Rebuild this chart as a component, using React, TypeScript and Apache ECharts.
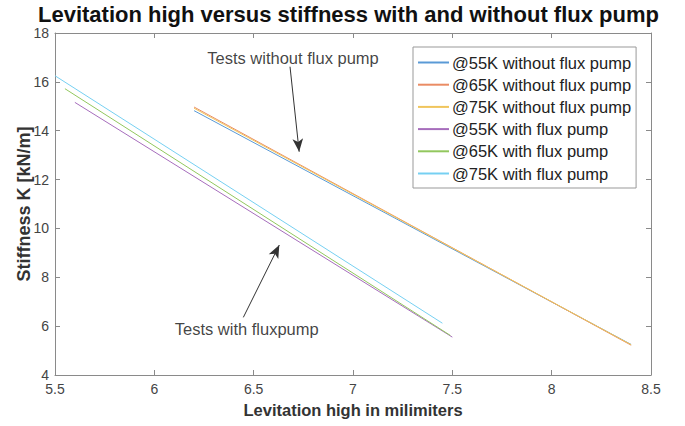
import React, { useEffect, useRef } from "react";
import * as echarts from "echarts";

const seriesNames = [
  "@55K without flux pump",
  "@65K without flux pump",
  "@75K without flux pump",
  "@55K with flux pump",
  "@65K with flux pump",
  "@75K with flux pump",
];
const seriesColors = ["#5a9ad6", "#ea8c64", "#f0c55c", "#a66dbc", "#92c75e", "#76d0f2"];

const wo55X = [6.2, 8.4];
const wo55Y = [14.82, 5.25];
const wo65X = [6.2, 8.4];
const wo65Y = [14.97, 5.22];
const wo75X = [6.2, 8.4];
const wo75Y = [14.92, 5.24];
const w55X = [5.6, 7.5];
const w55Y = [15.16, 5.55];
const w65X = [5.55, 7.49];
const w65Y = [15.72, 5.62];
const w75X = [5.5, 7.45];
const w75Y = [16.25, 6.12];

const seriesXs = [wo55X, wo65X, wo75X, w55X, w65X, w75X];
const seriesYs = [wo55Y, wo65Y, wo75Y, w55Y, w65Y, w75Y];

const xTicks = [5.5, 6, 6.5, 7, 7.5, 8, 8.5];
const yTicks = [4, 6, 8, 10, 12, 14, 16, 18];

const annotations = [
  { text: "Tests without flux pump", at: [6.698, 16.98], from: [6.683, 16.62], to: [6.729, 13.14] },
  { text: "Tests with fluxpump", at: [6.465, 5.88], from: [6.448, 6.36], to: [6.629, 9.32] },
];

const FONT = "'Liberation Sans', Arial, Helvetica, sans-serif";

export default function App() {
  const ref = useRef<HTMLDivElement>(null);
  useEffect(() => {
    if (!ref.current) return;
    const chart = echarts.init(ref.current, undefined, { renderer: "svg" });
    const axisColor = "#8a8a8a";
    const labelColor = "#444";
    const lineSeries = seriesNames.map((name, i) => ({
      name,
      type: "line",
      xAxisIndex: 0,
      yAxisIndex: 0,
      symbol: "none",
      lineStyle: { width: 1, color: seriesColors[i] },
      itemStyle: { color: seriesColors[i] },
      data: seriesXs[i].map((x, j) => [x, seriesYs[i][j]]),
      z: 3,
    }));
    const option: any = {
      animation: false,
      backgroundColor: "#ffffff",
      textStyle: { fontFamily: FONT },
      title: {
        text: "Levitation high versus stiffness with and without flux pump",
        left: 38,
        top: 3,
        padding: 0,
        textStyle: { fontFamily: FONT, fontSize: 22, fontWeight: "bold", color: "#111" },
      },
      grid: { left: 55, right: 34, top: 33, bottom: 51, containLabel: false, outerBoundsMode: "none" },
      legend: {
        data: seriesNames,
        orient: "vertical",
        left: 413,
        top: 47,
        padding: [6, 5, 5, 5],
        itemGap: 3.2,
        itemWidth: 31,
        itemHeight: 2,
        icon: "rect",
        borderColor: "#999",
        borderWidth: 1,
        backgroundColor: "#fff",
        textStyle: { fontFamily: FONT, fontSize: 16.5, color: "#222", lineHeight: 19, padding: [0, 0, 0, -2] },
      },
      xAxis: [
        {
          type: "value",
          min: 5.5,
          max: 8.5,
          interval: 0.5,
          position: "bottom",
          name: "Levitation high in milimiters",
          nameLocation: "middle",
          nameGap: 26,
          nameTextStyle: { fontFamily: FONT, fontSize: 16.5, fontWeight: "bold", color: "#333" },
          axisLine: { show: true, lineStyle: { color: axisColor, width: 1 } },
          axisTick: { show: true, inside: true, length: 5, lineStyle: { color: axisColor } },
          axisLabel: { color: labelColor, fontSize: 14, margin: 7, formatter: (v: number) => (xTicks.includes(v) ? String(v) : "") },
          splitLine: { show: false },
        },
        {
          type: "value",
          min: 5.5,
          max: 8.5,
          interval: 0.5,
          position: "top",
          axisLine: { show: true, lineStyle: { color: axisColor, width: 1 } },
          axisTick: { show: true, inside: true, length: 5, lineStyle: { color: axisColor } },
          axisLabel: { show: false },
          splitLine: { show: false },
        },
      ],
      yAxis: [
        {
          type: "value",
          min: 4,
          max: 18,
          interval: 2,
          position: "left",
          name: "Stiffness K [kN/m]",
          nameLocation: "middle",
          nameGap: 22,
          nameMoveOverlap: false,
          nameTextStyle: { fontFamily: FONT, fontSize: 18, fontWeight: "bold", color: "#333" },
          axisLine: { show: true, lineStyle: { color: axisColor, width: 1 } },
          axisTick: { show: true, inside: true, length: 5, lineStyle: { color: axisColor } },
          axisLabel: { color: labelColor, fontSize: 14, margin: 6, formatter: (v: number) => (yTicks.includes(v) ? String(v) : "") },
          splitLine: { show: false },
        },
        {
          type: "value",
          min: 4,
          max: 18,
          interval: 2,
          position: "right",
          axisLine: { show: true, lineStyle: { color: axisColor, width: 1 } },
          axisTick: { show: true, inside: true, length: 5, lineStyle: { color: axisColor } },
          axisLabel: { show: false },
          splitLine: { show: false },
        },
      ],
      series: [
        ...lineSeries,
        {
          name: "annotations",
          type: "scatter",
          xAxisIndex: 0,
          yAxisIndex: 0,
          symbolSize: 0,
          silent: true,
          data: annotations.map((a) => ({ value: a.at, name: a.text })),
          label: {
            show: true,
            position: "inside",
            formatter: (p: any) => p.name,
            fontFamily: FONT,
            fontSize: 16.5,
            color: "#111",
          },
          markLine: {
            silent: true,
            symbol: ["none", "arrow"],
            symbolSize: [8, 13],
            label: { show: false },
            lineStyle: { color: "#333", width: 1, type: "solid" },
            data: annotations.map((a) => [{ coord: a.from }, { coord: a.to }]),
          },
          z: 4,
        },
      ],
    };
    chart.setOption(option);
    return () => chart.dispose();
  }, []);
  return (
    <div
      ref={ref}
      style={{ position: "absolute", left: 0, top: 0, width: 685, height: 426, background: "#fff" }}
    />
  );
}
